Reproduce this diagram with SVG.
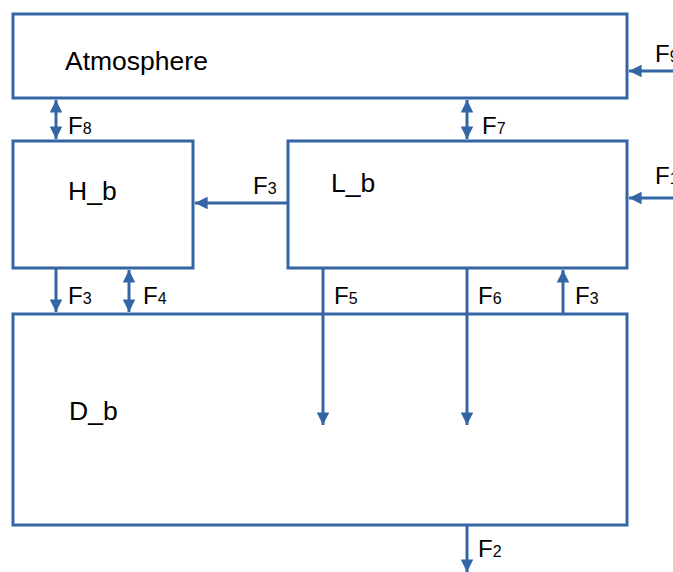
<svg xmlns="http://www.w3.org/2000/svg" width="673" height="572" viewBox="0 0 673 572">
  <style>
    .box { fill: #ffffff; stroke: #3465a4; stroke-width: 3; }
    .flow { stroke: #3465a4; stroke-width: 3; fill: none; }
    .name { font-family: "Liberation Sans", Arial, sans-serif; font-size: 26.5px; fill: #000; }
    .lbl { font-family: "Liberation Sans", Arial, sans-serif; font-size: 24px; fill: #000; }
    .sub { font-size: 16px; }
  </style>
  <defs>
    <marker id="head" viewBox="0 0 10 10" refX="10" refY="5" markerWidth="4.2" markerHeight="4.2" markerUnits="strokeWidth" orient="auto-start-reverse">
      <path d="M0,0 L10,5 L0,10 z" fill="#3465a4"/>
    </marker>
  </defs>
  <rect width="673" height="572" fill="#ffffff"/>

  <g id="atmosphere">
    <rect class="box" x="13" y="14" width="614" height="84"/>
    <text class="name" x="65" y="70">Atmosphere</text>
  </g>
  <g id="h_b">
    <rect class="box" x="13" y="141" width="180" height="127"/>
    <text class="name" x="68" y="200">H_b</text>
  </g>
  <g id="l_b">
    <rect class="box" x="288" y="141" width="339" height="127"/>
    <text class="name" x="331" y="192">L_b</text>
  </g>
  <g id="d_b">
    <rect class="box" x="13" y="314" width="614" height="211"/>
    <text class="name" x="69" y="420">D_b</text>
  </g>

  <g id="connectors">
    <line class="flow" x1="56" y1="100" x2="56" y2="139" marker-start="url(#head)" marker-end="url(#head)"/>
    <line class="flow" x1="467" y1="100" x2="467" y2="139" marker-start="url(#head)" marker-end="url(#head)"/>
    <line class="flow" x1="673" y1="71" x2="629" y2="71" marker-end="url(#head)"/>
    <line class="flow" x1="673" y1="198" x2="629" y2="198" marker-end="url(#head)"/>
    <line class="flow" x1="288" y1="203" x2="195" y2="203" marker-end="url(#head)"/>
    <line class="flow" x1="56" y1="268" x2="56" y2="312" marker-end="url(#head)"/>
    <line class="flow" x1="129" y1="270" x2="129" y2="312" marker-start="url(#head)" marker-end="url(#head)"/>
    <line class="flow" x1="323" y1="268" x2="323" y2="425" marker-end="url(#head)"/>
    <line class="flow" x1="467" y1="268" x2="467" y2="425" marker-end="url(#head)"/>
    <line class="flow" x1="563" y1="314" x2="563" y2="270" marker-end="url(#head)"/>
    <line class="flow" x1="467" y1="525" x2="467" y2="572" marker-end="url(#head)"/>

    <text class="lbl" x="68" y="134">F<tspan class="sub">8</tspan></text>
    <text class="lbl" x="482" y="134">F<tspan class="sub">7</tspan></text>
    <text class="lbl" x="655" y="62">F<tspan class="sub">9</tspan></text>
    <text class="lbl" x="655" y="184">F<tspan class="sub">1</tspan></text>
    <text class="lbl" x="253" y="194">F<tspan class="sub">3</tspan></text>
    <text class="lbl" x="68" y="304">F<tspan class="sub">3</tspan></text>
    <text class="lbl" x="143" y="304">F<tspan class="sub">4</tspan></text>
    <text class="lbl" x="334" y="304">F<tspan class="sub">5</tspan></text>
    <text class="lbl" x="478" y="304">F<tspan class="sub">6</tspan></text>
    <text class="lbl" x="575" y="304">F<tspan class="sub">3</tspan></text>
    <text class="lbl" x="478" y="557">F<tspan class="sub">2</tspan></text>
  </g>
</svg>
